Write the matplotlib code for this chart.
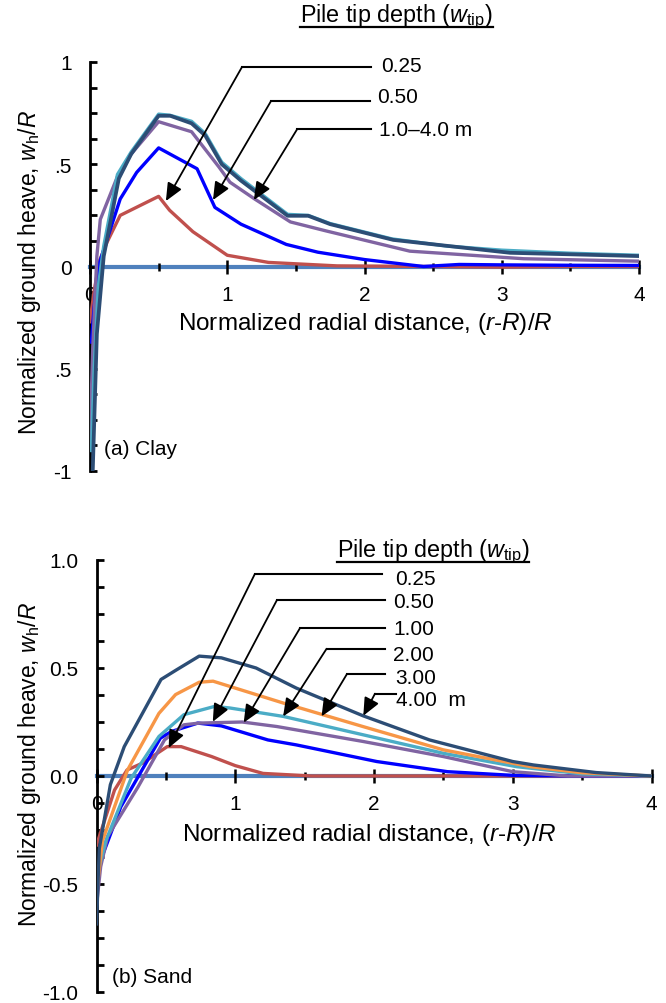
import matplotlib
matplotlib.use("Agg")
import matplotlib.pyplot as plt
from matplotlib.lines import Line2D
from matplotlib.ticker import FixedLocator, NullFormatter

plt.rcParams['font.family'] = ['Liberation Sans', 'DejaVu Sans']
plt.rcParams['mathtext.fontset'] = 'custom'
plt.rcParams['mathtext.rm'] = 'Liberation Sans'
plt.rcParams['mathtext.it'] = 'Liberation Sans:italic'

# ---------------- data: (a) Clay ----------------
clay_025_x = [0, 0.03, 0.07, 0.125, 0.22, 0.5, 0.58, 0.75, 1.0, 1.3, 1.8, 2.5, 3.0, 3.5, 4.0]
clay_025_y = [-0.27, -0.12, 0.03, 0.12, 0.25, 0.343, 0.275, 0.17, 0.055, 0.02, 0.003, 0.0, -0.003, 0.0, 0.0]
clay_050_x = [0.01, 0.03, 0.06, 0.22, 0.34, 0.5, 0.78, 0.91, 1.1, 1.43, 1.66, 2.0, 2.43, 2.69, 3.0, 3.5, 4.0]
clay_050_y = [-0.37, -0.2, 0.0, 0.33, 0.46, 0.58, 0.478, 0.289, 0.207, 0.108, 0.07, 0.034, 0.0, 0.01, 0.008, 0.006, 0.005]
clay_1_x = [0.0, 0.02, 0.05, 0.075, 0.2, 0.3, 0.5, 0.74, 0.94, 1.02, 1.2, 1.46, 1.72, 2.33, 3.16, 4.0]
clay_1_y = [-0.85, -0.4, 0.05, 0.23, 0.44, 0.55, 0.708, 0.659, 0.486, 0.412, 0.33, 0.218, 0.174, 0.075, 0.038, 0.026]
clay_2_x = [0.01, 0.03, 0.06, 0.1, 0.2, 0.3, 0.5, 0.58, 0.74, 0.84, 0.96, 1.1, 1.44, 1.59, 1.75, 2.2, 2.6, 3.0, 3.5, 4.0]
clay_2_y = [-0.9, -0.5, -0.1, 0.1, 0.45, 0.56, 0.745, 0.74, 0.71, 0.65, 0.51, 0.43, 0.255, 0.25, 0.21, 0.135, 0.1, 0.08, 0.065, 0.055]
clay_4_x = [0.02, 0.05, 0.1, 0.21, 0.3, 0.5, 0.585, 0.74, 0.84, 0.96, 1.1, 1.44, 1.59, 1.75, 2.21, 3.06, 4.0]
clay_4_y = [-1.0, -0.33, 0.05, 0.43, 0.55, 0.737, 0.737, 0.70, 0.64, 0.5, 0.42, 0.248, 0.248, 0.207, 0.13, 0.067, 0.051]

# ---------------- data: (b) Sand ----------------
sand_025_x = [0, 0.13, 0.22, 0.33, 0.51, 0.61, 0.83, 1.0, 1.2, 1.55, 2.0, 3.0, 4.0]
sand_025_y = [-0.32, -0.065, 0.028, 0.059, 0.136, 0.136, 0.09, 0.048, 0.012, 0.0, 0.0, 0.0, 0.0]
sand_050_x = [0, 0.03, 0.175, 0.46, 0.54, 0.73, 0.9, 1.235, 1.44, 2.02, 2.53, 3.0, 3.5, 4.0]
sand_050_y = [-0.52, -0.39, -0.143, 0.175, 0.206, 0.245, 0.232, 0.167, 0.144, 0.067, 0.02, 0.003, 0.0, 0.0]
sand_1_x = [0, 0.03, 0.08, 0.3, 0.49, 0.63, 0.74, 1.05, 1.3, 1.92, 2.5, 3.0, 3.4, 4.0]
sand_1_y = [-0.6, -0.42, -0.28, -0.05, 0.167, 0.237, 0.245, 0.25, 0.229, 0.16, 0.09, 0.02, 0.0, 0.0]
sand_2_x = [0, 0.067, 0.25, 0.45, 0.63, 0.85, 0.96, 1.345, 1.92, 2.5, 3.03, 3.5, 4.0]
sand_2_y = [-0.47, -0.3, -0.01, 0.183, 0.284, 0.322, 0.315, 0.276, 0.191, 0.105, 0.043, 0.01, 0.0]
sand_3_x = [0, 0.043, 0.224, 0.45, 0.57, 0.74, 0.84, 0.96, 1.345, 1.92, 2.5, 3.13, 3.5, 4.0]
sand_3_y = [-0.545, -0.3, 0.028, 0.29, 0.377, 0.434, 0.439, 0.415, 0.338, 0.229, 0.121, 0.043, 0.015, 0.0]
sand_4_x = [0, 0.02, 0.1, 0.2, 0.465, 0.573, 0.74, 0.9, 1.15, 1.44, 1.92, 2.4, 3.0, 3.15, 3.6, 4.0]
sand_4_y = [-0.685, -0.336, -0.04, 0.136, 0.447, 0.49, 0.555, 0.547, 0.50, 0.407, 0.279, 0.167, 0.067, 0.051, 0.016, 0.0]

clay_labels = ["0.25", "0.50", "1.0\u20134.0 m"]
sand_labels = ["0.25", "0.50", "1.00", "2.00", "3.00", "4.00  m"]
clay_yticklabels = ["1", ".5", "0", ".5", "-1"]
sand_yticklabels = ["1.0", "0.5", "0.0", "-0.5", "-1.0"]
xticklabels = ["0", "1", "2", "3", "4"]

C_RED = '#C0504D'
C_BLUE = '#0000FF'
C_PURPLE = '#8064A2'
C_CYAN = '#4BACC6'
C_ORANGE = '#F79646'
C_NAVY = '#2C4D75'
C_ZERO = '#4F81BD'

W, H = 666, 1004
fig = plt.figure(figsize=(W / 100, H / 100), dpi=100)

ax1 = fig.add_axes([90 / W, 1 - 472 / H, 549 / W, 409 / H])
ax2 = fig.add_axes([96.5 / W, 1 - 993 / H, 555 / W, 432 / H])

TICKFS = 15
XLABFS = 17.5
YLABFS = 16.5


def style_axes(ax, ylabels):
    ax.set_xlim(0, 4)
    ax.set_ylim(-1, 1)
    for s in ['top', 'right']:
        ax.spines[s].set_visible(False)
    ax.spines['left'].set_linewidth(2)
    ax.spines['bottom'].set_position(('data', 0))
    ax.spines['bottom'].set_color(C_ZERO)
    ax.spines['bottom'].set_linewidth(3)
    ax.spines['bottom'].set_zorder(1)
    ax.set_yticks([1, 0.5, 0, -0.5, -1])
    ax.set_yticklabels(ylabels)
    ax.yaxis.set_minor_locator(FixedLocator([-1 + 0.125 * i for i in range(17)]))
    ax.tick_params(axis='y', which='both', direction='in', length=5, width=2,
                   color='black', pad=13, labelsize=TICKFS)
    ax.set_xticks([0, 1, 2, 3, 4])
    ax.set_xticklabels(xticklabels)
    ax.xaxis.set_minor_locator(FixedLocator([0.5, 1.5, 2.5, 3.5]))
    ax.xaxis.set_minor_formatter(NullFormatter())
    ax.tick_params(axis='x', which='major', direction='inout', length=10, width=1.8,
                   color='black', pad=8, labelsize=TICKFS)
    ax.tick_params(axis='x', which='minor', direction='inout', length=6, width=1.8,
                   color='black')
    ax.patch.set_alpha(0)


style_axes(ax1, clay_yticklabels)
style_axes(ax2, sand_yticklabels)

LW = 2.4
ax1.plot(clay_025_x, clay_025_y, color=C_RED, lw=LW, zorder=3)
ax1.plot(clay_050_x, clay_050_y, color=C_BLUE, lw=LW, zorder=3)
ax1.plot(clay_1_x, clay_1_y, color=C_PURPLE, lw=LW, zorder=3)
ax1.plot(clay_2_x, clay_2_y, color=C_CYAN, lw=LW, zorder=3)
ax1.plot(clay_4_x, clay_4_y, color=C_NAVY, lw=LW + 0.3, zorder=3)

ax2.plot(sand_025_x, sand_025_y, color=C_RED, lw=LW, zorder=3)
ax2.plot(sand_050_x, sand_050_y, color=C_BLUE, lw=LW, zorder=3)
ax2.plot(sand_1_x, sand_1_y, color=C_PURPLE, lw=LW, zorder=3)
ax2.plot(sand_2_x, sand_2_y, color=C_CYAN, lw=LW, zorder=3)
ax2.plot(sand_3_x, sand_3_y, color=C_ORANGE, lw=LW, zorder=3)
ax2.plot(sand_4_x, sand_4_y, color=C_NAVY, lw=LW, zorder=3)

xlab = "Normalized radial distance, ($\\mathit{r}$-$\\mathit{R}$)/$\\mathit{R}$"
ylab = "Normalized ground heave, $\\mathit{w}_{\\mathrm{h}}/\\mathit{R}$"
ax1.text(0.502, 0.362, xlab, transform=ax1.transAxes, ha='center', va='center', fontsize=XLABFS)
ax2.text(0.491, 0.366, xlab, transform=ax2.transAxes, ha='center', va='center', fontsize=XLABFS)
ax1.text(-0.11, 0.487, ylab, transform=ax1.transAxes, ha='center', va='center',
         rotation=90, fontsize=YLABFS)
ax2.text(-0.12, 0.528, ylab, transform=ax2.transAxes, ha='center', va='center',
         rotation=90, fontsize=YLABFS)

ax1.text(0.1, -0.89, "(a) Clay", ha='left', va='center', fontsize=TICKFS)
ax2.text(0.115, -0.93, "(b) Sand", ha='left', va='center', fontsize=TICKFS)

# leader annotations: (tip, elbow, line end, text position)
clay_leaders = [
    ((0.553, 0.32), (1.107, 0.975), 2.047, (2.12, 0.985)),
    ((0.896, 0.325), (1.318, 0.808), 2.04, (2.095, 0.829)),
    ((1.194, 0.325), (1.508, 0.67), 2.047, (2.105, 0.671)),
]
sand_leaders = [
    ((0.52, 0.13), (1.141, 0.935), 2.058, (2.15, 0.915)),
    ((0.838, 0.251), (1.30, 0.814), 2.08, (2.14, 0.806)),
    ((1.061, 0.247), (1.466, 0.684), 2.08, (2.14, 0.682)),
    ((1.345, 0.276), (1.658, 0.589), 2.08, (2.14, 0.563)),
    ((1.622, 0.276), (1.803, 0.47), 2.08, (2.155, 0.454)),
    ((1.923, 0.279), (2.007, 0.381), 2.16, (2.16, 0.353)),
]


def draw_leaders(ax, leaders, labels):
    for (tip, elbow, xend, tpos), lab in zip(leaders, labels):
        ax.add_line(Line2D([elbow[0], xend], [elbow[1], elbow[1]], color='black',
                           lw=1.5, clip_on=False, zorder=5))
        ax.annotate("", xy=tip, xytext=elbow,
                    arrowprops=dict(arrowstyle='-|>,head_length=0.9,head_width=0.4',
                                    mutation_scale=12, color='black', lw=1.3,
                                    shrinkA=0, shrinkB=0), zorder=5)
        ax.text(tpos[0], tpos[1], lab, ha='left', va='center', fontsize=TICKFS, zorder=6)


draw_leaders(ax1, clay_leaders, clay_labels)
draw_leaders(ax2, sand_leaders, sand_labels)

title = "Pile tip depth ($\\mathit{w}_{\\mathrm{tip}}$)"
t1 = fig.text(300 / W, 1 - 17 / H, title, ha='left', va='center', fontsize=16.8)
t2 = fig.text(336.7 / W, 1 - 551.7 / H, title, ha='left', va='center', fontsize=16.8)

fig.canvas.draw()
r = fig.canvas.get_renderer()
for t, uy in [(t1, 28), (t2, 563.3)]:
    bb = t.get_window_extent(r)
    fig.add_artist(Line2D([bb.x0 / W, bb.x1 / W], [1 - uy / H, 1 - uy / H],
                          transform=fig.transFigure, color='black', lw=1.6))

fig.savefig("out.png", dpi=100)
